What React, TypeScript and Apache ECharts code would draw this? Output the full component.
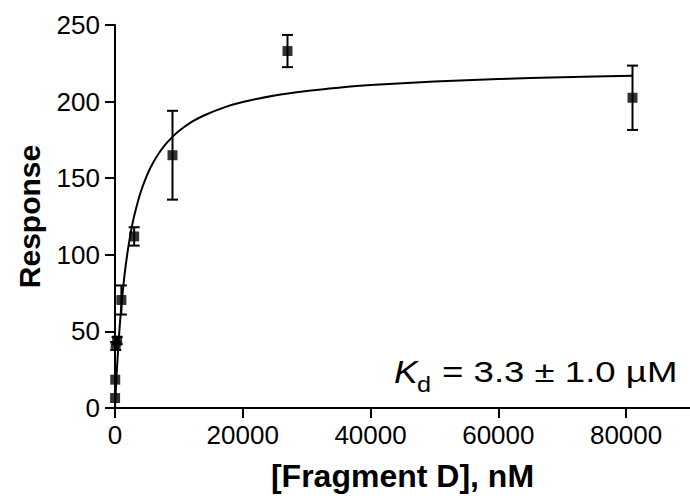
import React, { useEffect, useRef } from "react";
import * as echarts from "echarts";

// Measured data (nM concentration, response, error)
const xConc = [12.3, 37, 111, 333, 1000, 3000, 9000, 27000, 81000];
const response = [6.5, 18.5, 40.5, 44, 70.5, 112, 165, 233, 202.5];
const errorBar = [0, 0, 2.6, 2.3, 9.5, 6, 29, 10.5, 21];

// Fitted curve
const fitX = [0, 100, 250, 500, 750, 1000, 1500, 2000, 2500, 3000, 4000, 5000, 6000, 7000, 8000, 9000, 10000, 12000, 14000, 17000, 20000, 25000, 30000, 35000, 40000, 50000, 60000, 70000, 81000];
const fitY = [0, 9.1, 21.5, 39.2, 54.1, 66.7, 87.1, 102.7, 115.2, 125.3, 140.7, 151.9, 160.4, 167.1, 172.5, 177.0, 180.8, 186.7, 191.1, 196.1, 199.7, 204.0, 206.9, 209.1, 210.8, 213.1, 214.7, 215.9, 216.8];

const xTicks = [0, 20000, 40000, 60000, 80000];
const yTicks = [0, 50, 100, 150, 200, 250];

const FONT = "'Liberation Sans', Arial, Helvetica, sans-serif";

export default function App() {
  const ref = useRef<HTMLDivElement>(null);
  useEffect(() => {
    if (!ref.current) return;
    const chart = echarts.init(ref.current, null, { renderer: "svg" });
    const errData = xConc
      .map((x, i) => [x, response[i] - errorBar[i], response[i] + errorBar[i]])
      .filter((_, i) => errorBar[i] > 0);
    const option: any = {
      animation: false,
      backgroundColor: "#fff",
      grid: { left: 115, right: 0, top: 25, bottom: 96, outerBoundsMode: "none", containLabel: false },
      xAxis: {
        type: "value",
        min: 0,
        max: 90000,
        interval: 20000,
        name: "[Fragment D], nM",
        nameLocation: "middle",
        nameGap: 52,
        nameTextStyle: { fontFamily: FONT, fontSize: 32, fontWeight: "bold", color: "#000" },
        axisLine: { show: true, onZero: false, lineStyle: { color: "#000", width: 2 } },
        axisTick: { show: true, length: 10, customValues: xTicks, lineStyle: { color: "#000", width: 2 } },
        axisLabel: {
          customValues: xTicks,
          formatter: (v: number) => String(v),
          fontFamily: FONT,
          fontSize: 26,
          color: "#000",
          margin: 14,
        },
        splitLine: { show: false },
      },
      yAxis: {
        type: "value",
        min: 0,
        max: 250,
        interval: 50,
        name: "Response",
        nameLocation: "middle",
        nameGap: 71,
        nameTextStyle: { fontFamily: FONT, fontSize: 30, fontWeight: "bold", color: "#000" },
        axisLine: { show: true, onZero: false, lineStyle: { color: "#000", width: 2 } },
        axisTick: { show: true, length: 10, customValues: yTicks, lineStyle: { color: "#000", width: 2 } },
        axisLabel: {
          customValues: yTicks,
          formatter: (v: number) => String(v),
          fontFamily: FONT,
          fontSize: 26,
          color: "#000",
          margin: 15,
        },
        splitLine: { show: false },
      },
      series: [
        {
          type: "line",
          data: fitX.map((x, i) => [x, fitY[i]]),
          showSymbol: false,
          smooth: 0.25,
          lineStyle: { color: "#000", width: 2 },
          z: 2,
        },
        {
          type: "custom",
          data: errData,
          encode: { x: 0, y: [1, 2] },
          renderItem: (params: any, api: any) => {
            const x = api.value(0);
            const lo = api.coord([x, api.value(1)]);
            const hi = api.coord([x, api.value(2)]);
            const hw = 5.5;
            const st = { stroke: "#000", lineWidth: 2 };
            return {
              type: "group",
              children: [
                { type: "line", shape: { x1: lo[0], y1: lo[1], x2: hi[0], y2: hi[1] }, style: st },
                { type: "line", shape: { x1: lo[0] - hw, y1: lo[1], x2: lo[0] + hw, y2: lo[1] }, style: st },
                { type: "line", shape: { x1: hi[0] - hw, y1: hi[1], x2: hi[0] + hw, y2: hi[1] }, style: st },
              ],
            };
          },
          z: 3,
        },
        {
          type: "scatter",
          data: xConc.map((x, i) => [x, response[i]]),
          symbol: "rect",
          symbolSize: 10,
          itemStyle: { color: "#000" },
          z: 4,
        },
      ],
      graphic: [
        {
          type: "text",
          x: 394,
          y: 372,
          scaleX: 1.15,
          style: { text: "K", font: `italic 31px ${FONT}`, fill: "#000", textAlign: "left", textVerticalAlign: "middle" },
        },
        {
          type: "text",
          x: 417,
          y: 385,
          scaleX: 1.15,
          style: { text: "d", font: `22px ${FONT}`, fill: "#000", textAlign: "left", textVerticalAlign: "middle" },
        },
        {
          type: "text",
          x: 442,
          y: 372,
          scaleX: 1.22,
          style: { text: "= 3.3 ± 1.0 µM", font: `30px ${FONT}`, fill: "#000", textAlign: "left", textVerticalAlign: "middle" },
        },
      ],
    };
    chart.setOption(option);
    return () => chart.dispose();
  }, []);
  return <div ref={ref} style={{ position: "fixed", left: 0, top: 0, width: 690, height: 504 }} />;
}
